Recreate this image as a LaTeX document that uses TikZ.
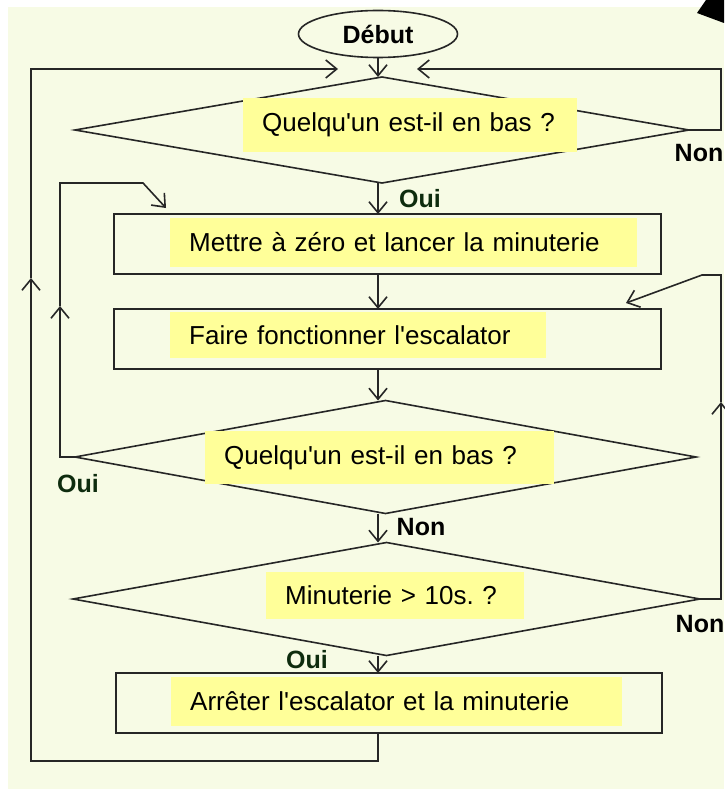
\documentclass[tikz,border=0pt]{standalone}
\usepackage{fontspec}
\setmainfont{Liberation Sans}
\usetikzlibrary{shapes.geometric,arrows.meta}
\frenchspacing

\definecolor{fond}{RGB}{247,251,229}
\definecolor{jaune}{RGB}{255,255,153}
\definecolor{vertoui}{RGB}{14,44,14}

\begin{document}
\begin{tikzpicture}[x=1pt,y=-1pt,
    flow/.style={line width=1.6pt,draw=black!85},
    >={Straight Barb[length=11pt,width=18pt]},
    boite/.style={flow,rectangle,inner sep=0pt,outer sep=0pt,minimum width=547pt,minimum height=60pt},
    losange/.style={flow,diamond,inner sep=0pt,outer sep=0pt},
    etiquette/.style={fill=jaune,anchor=west,inner xsep=19pt,inner ysep=0pt,align=left,
        text width=#1,font=\fontsize{26}{30}\selectfont},
    rep/.style={inner sep=0pt,font=\fontsize{25}{28}\selectfont\bfseries}]

    \useasboundingbox (0,0) rectangle (724,789);
    \fill[white] (0,0) rectangle (724,789);
    \fill[fond] (8,7) rectangle (724,789);
    \fill[black] (706,0) -- (724,0) -- (724,23) -- (697,13) -- cycle;

    % formes
    \node[flow,ellipse,inner sep=0pt,minimum width=159pt,minimum height=47pt,
          font=\fontsize{25}{28}\selectfont\bfseries] (debut) at (378,34) {Début};
    \node[losange,minimum width=614pt,minimum height=106pt] (d1) at (382,130) {};
    \node[boite] (box1) at (387.5,244) {};
    \node[boite] (box2) at (387.5,339) {};
    \node[losange,minimum width=621pt,minimum height=113pt] (d2) at (385.5,457) {};
    \node[losange,minimum width=627pt,minimum height=113pt] (d3) at (386.5,599) {};
    \node[boite,minimum width=546pt] (box3) at (389,703) {};

    % etiquettes
    \node[etiquette=296pt,minimum height=54pt] (qlab1) at (243,125) {\mbox{Quelqu\textquotesingle un est-il en bas ?}};
    \node[etiquette=429pt,minimum height=49pt] (mlab) at (170,242.5) {\mbox{Mettre à zéro et lancer la minuterie}};
    \node[etiquette=338pt,minimum height=46pt] (flab) at (170,335) {\mbox{Faire fonctionner l\textquotesingle escalator}};
    \node[etiquette=311pt,minimum height=53pt] (qlab2) at (205,457.5) {\mbox{Quelqu\textquotesingle un est-il en bas ?}};
    \node[etiquette=220pt,minimum height=47pt] (tlab) at (266,595.5) {\mbox{Minuterie > 10s. ?}};
    \node[etiquette=413pt,minimum height=49pt] (alab) at (171,701.5) {\mbox{Arrêter l\textquotesingle escalator et la minuterie}};

    \node[rep,text=vertoui] (oui1) at (420,199) {Oui};
    \node[rep] (non1) at (699,153) {Non};
    \node[rep,text=vertoui] (oui2) at (78,484) {Oui};
    \node[rep] (non2) at (421,527) {Non};
    \node[rep] (non3) at (700,624) {Non};
    \node[rep,text=vertoui] (oui3) at (307,660) {Oui};

    % points des boucles
    \coordinate (obot) at (31,761);
    \coordinate (omid) at (31,278);
    \coordinate (otop) at (31,69);
    \coordinate (otip) at (338,69);
    \coordinate (imid) at (60,306);
    \coordinate (itop) at (60,183);
    \coordinate (ibend) at (143,183);
    \coordinate (itip) at (166,208);
    \coordinate (rtop) at (721,69);
    \coordinate (rtip) at (417,69);
    \coordinate (rmid) at (721,402);
    \coordinate (rbend) at (721,275);
    \coordinate (rknee) at (702,275);
    \coordinate (rtip2) at (626,303);

    % fleches principales
    \draw[flow,->] (debut.south) -- (debut.south |- d1.north);
    \draw[flow,->] (d1.south -| debut) -- (box1.north -| debut);
    \draw[flow,->] (box1.south -| debut) -- (box2.north -| debut);
    \draw[flow,->] (box2.south -| debut) -- (d2.north -| debut);
    \draw[flow,->] (d2.south -| debut) -- (d3.north -| debut);
    \draw[flow,->] (d3.south -| debut) -- (box3.north -| debut);

    % boucles
    \draw[flow,->] (box3.south -| debut) |- (obot) -- (omid);
    \draw[flow,->] (omid) -- (otop) -- (otip);
    \draw[flow,->] (d2.west) -| (imid);
    \draw[flow,->] (imid) -- (itop) -- (ibend) -- (itip);
    \draw[flow,->] (d1.east) -| (rtop) -- (rtip);
    \draw[flow,->] (d3.east) -| (rmid);
    \draw[flow,->] (rmid) -- (rbend) -- (rknee) -- (rtip2);

\end{tikzpicture}
\end{document}
